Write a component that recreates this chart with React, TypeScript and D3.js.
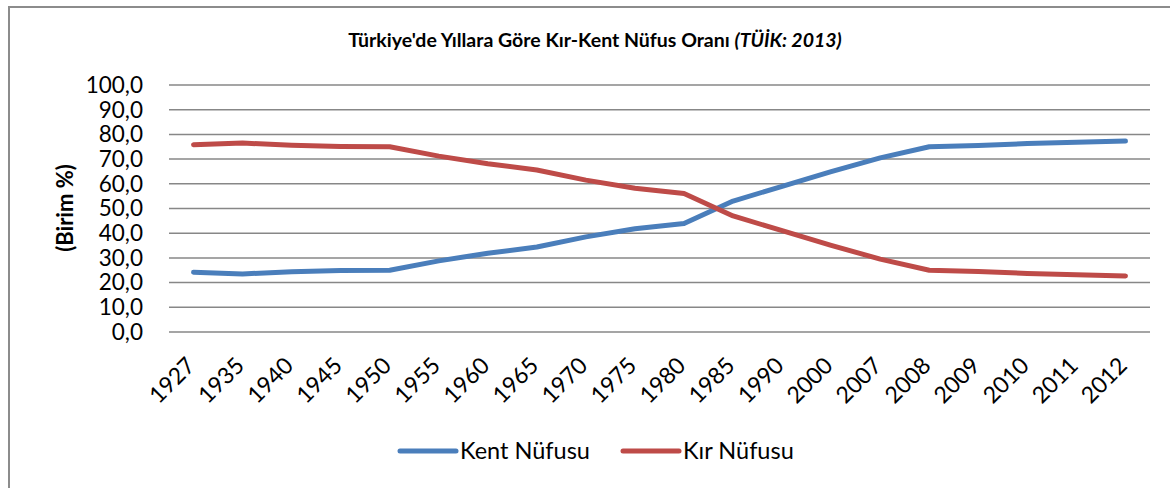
import React from 'react';
import * as d3 from 'd3';

const years = ['1927','1935','1940','1945','1950','1955','1960','1965','1970','1975','1980','1985','1990','2000','2007','2008','2009','2010','2011','2012'];
const kent = [24.2,23.5,24.4,24.9,25.0,28.8,31.9,34.4,38.5,41.8,43.9,53.0,59.0,64.9,70.5,75.0,75.5,76.3,76.8,77.3];
const kir = [75.8,76.5,75.6,75.1,75.0,71.2,68.1,65.6,61.5,58.2,56.1,47.0,41.0,35.1,29.5,25.0,24.5,23.7,23.2,22.7];
const yTicks = [0,10,20,30,40,50,60,70,80,90,100];
const seriesNames = ['Kent Nüfusu','Kır Nüfusu'];
const colors = ['#4a7ebb','#be4b48'];

const FONT = 'Lato, "Open Sans", sans-serif';

export default function App() {
  const W = 1170, H = 488;
  const x = d3.scaleBand<string>().domain(years).range([169, 1150]);
  const cx = (d: string) => (x(d) as number) + x.bandwidth() / 2;
  const y = d3.scaleLinear().domain([0, 100]).range([332, 85]);
  const fmt = (v: number) => d3.format('.1f')(v).replace('.', ',');
  const line = d3.line<number>().x((_, i) => cx(years[i])).y(v => y(v));
  const data = [kent, kir];
  return (
    <svg width={W} height={H} style={{ position: 'absolute', left: 0, top: 0, background: '#fff' }} fontFamily={FONT}>
      <rect x={0} y={0} width={W} height={H} fill="#fff" />
      <rect x={9} y={7} width={W + 20} height={H + 20} fill="none" stroke="#8c8c8c" strokeWidth={2} />
      <text x={595} y={47} textAnchor="middle" fontSize={19.5} fontWeight="bold" fill="#000">
        Türkiye'de Yıllara Göre Kır-Kent Nüfus Oranı <tspan fontStyle="italic">(TÜİK: 2013)</tspan>
      </text>
      {yTicks.map(t => (
        <g key={t}>
          <line x1={169} x2={1150} y1={y(t)} y2={y(t)} stroke="#878787" strokeWidth={1.5} />
          <text x={143} y={y(t)} dy="0.35em" textAnchor="end" fontSize={22.5} fill="#000">{fmt(t)}</text>
        </g>
      ))}
      <text transform={`translate(73,208) rotate(-90)`} textAnchor="middle" fontSize={22} fontWeight="bold" fill="#000">(Birim %)</text>
      {years.map(yr => (
        <text key={yr} transform={`translate(${cx(yr) + 3},367) rotate(-45)`} textAnchor="end" fontSize={23} fill="#000">{yr}</text>
      ))}
      {data.map((s, i) => (
        <path key={i} d={line(s) as string} fill="none" stroke={colors[i]} strokeWidth={5} strokeLinecap="round" strokeLinejoin="round" />
      ))}
      {seriesNames.map((n, i) => {
        const lx = [400, 623][i];
        return (
          <g key={n}>
            <line x1={lx} x2={lx + 56} y1={451} y2={451} stroke={colors[i]} strokeWidth={5} strokeLinecap="round" />
            <text x={lx + 60} y={451} dy="0.35em" fontSize={23.5} fill="#000">{n}</text>
          </g>
        );
      })}
    </svg>
  );
}
